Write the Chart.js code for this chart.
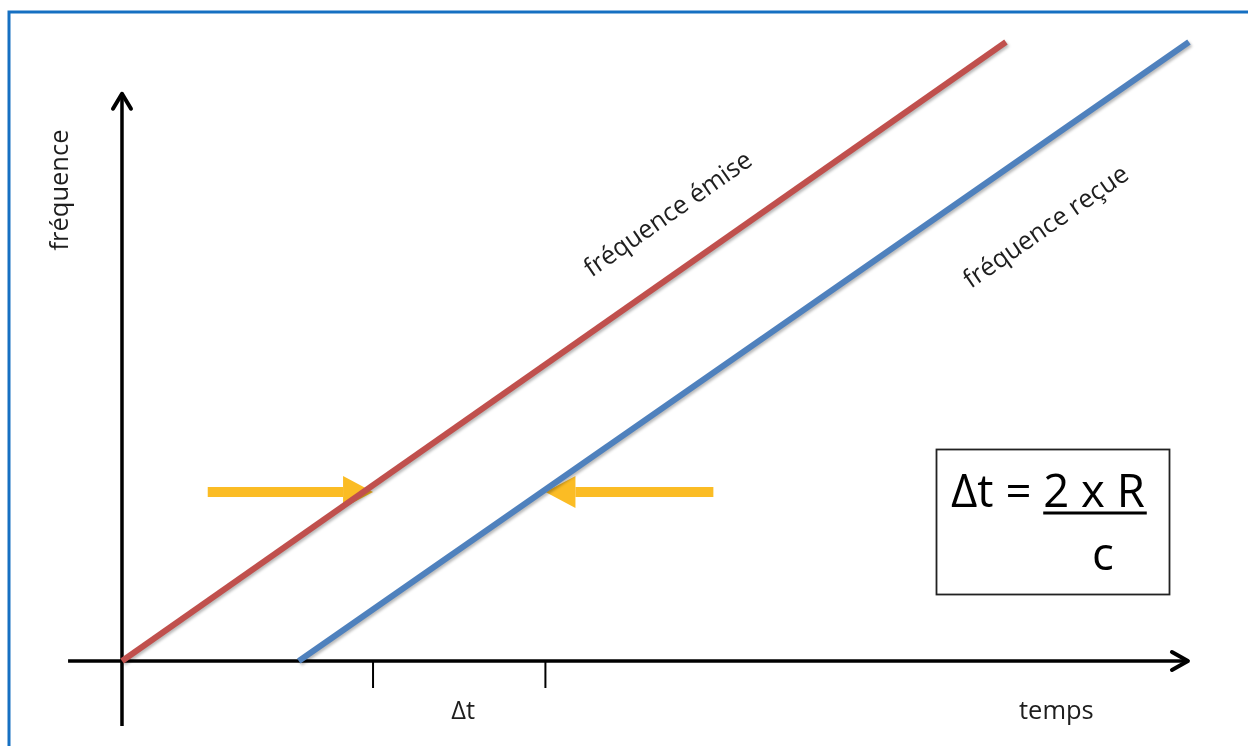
<!DOCTYPE html>
<html>
<head>
<meta charset="utf-8">
<script src="https://cdn.jsdelivr.net/npm/chart.js@4.4.1/dist/chart.umd.min.js"></script>
<style>
  html, body { margin: 0; padding: 0; background: #fff; }
  #wrap { width: 1248px; height: 746px; }
</style>
</head>
<body>
<div id="wrap"><canvas id="dopplerChart" width="1248" height="746"></canvas></div>
<script>
// frequency ramps: emitted and received (time, frequency), arbitrary units
const emitTime = [0, 10];
const emitFreq = [0, 10];
const recvTime = [2, 12.07];
const recvFreq = [0, 10];

// Δt ticks on the time axis
const deltaTicks = [2.84, 4.79];

// yellow arrows at one frequency level: [tail, tip] in time
const arrowFreq = 2.73;
const leftArrow = [0.97, 2.84];
const rightArrow = [6.69, 4.79];

// extent of the drawn axes
const timeAxis = [-0.61, 12.07];
const freqAxis = [-1.05, 9.18];

const axisTitleX = 'temps';
const axisTitleY = 'fréquence';
const emitLabel = 'fréquence émise';
const recvLabel = 'fréquence reçue';
const deltaLabel = 'Δt';

const FONT = '"Open Sans", "DejaVu Sans", sans-serif';

function seg(ctx, x1, y1, x2, y2) {
    ctx.beginPath();
    ctx.moveTo(x1, y1);
    ctx.lineTo(x2, y2);
    ctx.stroke();
}

function yellowArrow(ctx, xTail, xTip, yy) {
    const dir = Math.sign(xTip - xTail);
    const headLen = 30, half = 16, shaft = 10;
    const xBase = xTip - dir * headLen;
    ctx.fillStyle = '#fbbc24';
    ctx.fillRect(Math.min(xTail, xBase), yy - shaft / 2, Math.abs(xBase - xTail), shaft);
    ctx.beginPath();
    ctx.moveTo(xTip, yy);
    ctx.lineTo(xBase, yy - half);
    ctx.lineTo(xBase, yy + half);
    ctx.closePath();
    ctx.fill();
}

// text along a line: t = position on the line, perp = pixel offset (neg = above)
function lineLabel(ctx, x, y, times, freqs, t, perp, text) {
    const px1 = x.getPixelForValue(times[0]), py1 = y.getPixelForValue(freqs[0]);
    const px2 = x.getPixelForValue(times[1]), py2 = y.getPixelForValue(freqs[1]);
    const ang = Math.atan2(py2 - py1, px2 - px1);
    const f = freqs[0] + (t - times[0]) / (times[1] - times[0]) * (freqs[1] - freqs[0]);
    ctx.save();
    ctx.translate(x.getPixelForValue(t), y.getPixelForValue(f));
    ctx.rotate(ang);
    ctx.textAlign = 'center';
    ctx.textBaseline = 'middle';
    ctx.fillText(text, 0, perp);
    ctx.restore();
}

const diagram = {
    id: 'diagram',
    beforeDatasetsDraw(chart) {
        const { ctx, scales: { x, y } } = chart;
        const x0 = x.getPixelForValue(0);
        const y0 = y.getPixelForValue(0);
        ctx.save();

        // blue frame (top + left edges)
        ctx.strokeStyle = '#1670c2';
        ctx.lineWidth = 3;
        ctx.beginPath();
        ctx.moveTo(9, 746);
        ctx.lineTo(9, 12);
        ctx.lineTo(1248, 12);
        ctx.stroke();

        // axes
        ctx.strokeStyle = '#000';
        ctx.lineWidth = 3.5;
        const xEnd = x.getPixelForValue(timeAxis[1]);
        const yEnd = y.getPixelForValue(freqAxis[1]);
        seg(ctx, x.getPixelForValue(timeAxis[0]), y0, xEnd - 2, y0);
        seg(ctx, x0, y.getPixelForValue(freqAxis[0]), x0, yEnd + 2);
        ctx.lineJoin = 'round';
        ctx.lineCap = 'round';
        ctx.lineWidth = 4;
        ctx.beginPath();
        ctx.moveTo(xEnd - 17, y0 - 9);
        ctx.lineTo(xEnd - 1, y0);
        ctx.lineTo(xEnd - 17, y0 + 9);
        ctx.stroke();
        ctx.beginPath();
        ctx.moveTo(x0 - 9, yEnd + 16);
        ctx.lineTo(x0, yEnd + 1);
        ctx.lineTo(x0 + 9, yEnd + 16);
        ctx.stroke();

        // Δt ticks
        ctx.lineCap = 'butt';
        ctx.lineWidth = 2;
        deltaTicks.forEach(t => {
            const px = x.getPixelForValue(t);
            seg(ctx, px, y0, px, y0 + 27);
        });

        // yellow arrows
        const ay = y.getPixelForValue(arrowFreq);
        yellowArrow(ctx, x.getPixelForValue(leftArrow[0]), x.getPixelForValue(leftArrow[1]), ay);
        yellowArrow(ctx, x.getPixelForValue(rightArrow[0]), x.getPixelForValue(rightArrow[1]), ay);
        ctx.restore();
    },
    beforeDatasetDraw(chart) {
        const ctx = chart.ctx;
        ctx.save();
        ctx.shadowColor = 'rgba(0,0,0,0.28)';
        ctx.shadowBlur = 3;
        ctx.shadowOffsetX = 1.5;
        ctx.shadowOffsetY = 2;
    },
    afterDatasetDraw(chart) {
        chart.ctx.restore();
    },
    afterDatasetsDraw(chart) {
        const { ctx, scales: { x, y } } = chart;
        const x0 = x.getPixelForValue(0);
        const y0 = y.getPixelForValue(0);
        ctx.save();
        ctx.fillStyle = '#1e1e1e';
        ctx.font = '25.5px ' + FONT;

        // line labels
        lineLabel(ctx, x, y, emitTime, emitFreq, 6.52, -52, emitLabel);
        lineLabel(ctx, x, y, recvTime, recvFreq, 10.0, 71, recvLabel);

        // axis titles
        ctx.textAlign = 'center';
        ctx.textBaseline = 'middle';
        ctx.fillText(axisTitleX, x.getPixelForValue(10.57), y0 + 51);
        const mid = (x.getPixelForValue(deltaTicks[0]) + x.getPixelForValue(deltaTicks[1])) / 2;
        ctx.fillText(deltaLabel, mid + 4, y0 + 51);
        ctx.save();
        ctx.translate(x0 - 61, 190);
        ctx.rotate(-Math.PI / 2);
        ctx.fillText(axisTitleY, 0, 0);
        ctx.restore();

        // formula box
        ctx.strokeStyle = '#222';
        ctx.lineWidth = 1.8;
        ctx.strokeRect(936.5, 449.5, 233, 145);
        ctx.fillStyle = '#000';
        ctx.font = '45.5px ' + FONT;
        ctx.textAlign = 'left';
        ctx.textBaseline = 'alphabetic';
        const lead = 'Δt = ';
        const frac = '2 x R';
        const sx = 951;
        ctx.fillText(lead + frac, sx, 507);
        const fx = sx + ctx.measureText(lead).width;
        const fw = ctx.measureText(frac).width;
        ctx.fillRect(fx, 511.5, fw + 2, 3);
        ctx.textAlign = 'center';
        ctx.fillText('c', 1103, 570);
        ctx.restore();
    }
};

new Chart(document.getElementById('dopplerChart').getContext('2d'), {
    type: 'scatter',
    data: {
        datasets: [
            {
                label: emitLabel,
                data: emitTime.map((t, i) => ({ x: t, y: emitFreq[i] })),
                showLine: true,
                borderColor: '#c0504d',
                borderWidth: 6,
                pointRadius: 0,
                borderCapStyle: 'butt'
            },
            {
                label: recvLabel,
                data: recvTime.map((t, i) => ({ x: t, y: recvFreq[i] })),
                showLine: true,
                borderColor: '#4f81bd',
                borderWidth: 6,
                pointRadius: 0,
                borderCapStyle: 'butt'
            }
        ]
    },
    options: {
        responsive: false,
        animation: false,
        devicePixelRatio: 1,
        layout: { padding: 0 },
        scales: {
            x: { type: 'linear', min: -1.380, max: 12.738, display: false },
            y: { type: 'linear', min: -1.373, max: 10.678, display: false }
        },
        plugins: { legend: { display: false }, tooltip: { enabled: false } }
    },
    plugins: [diagram]
});
</script>
</body>
</html>
